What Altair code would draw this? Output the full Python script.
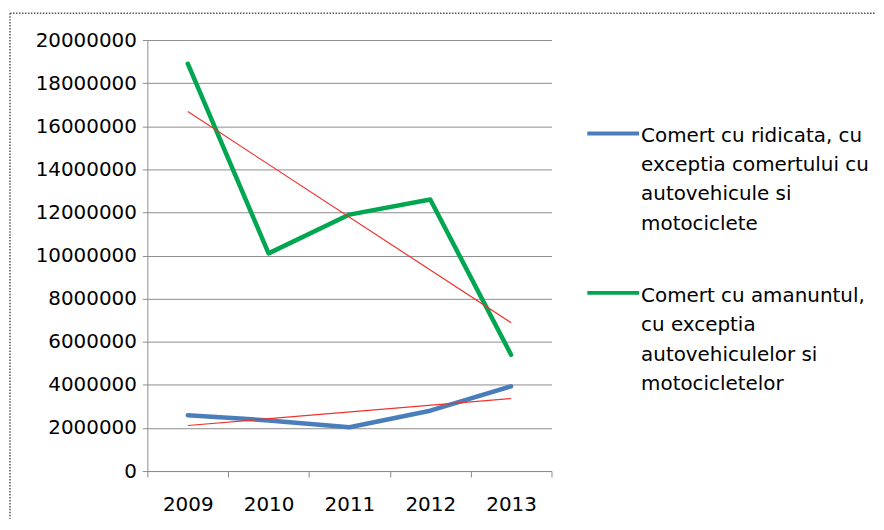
import altair as alt
import pandas as pd

years = [2009, 2010, 2011, 2012, 2013]
wholesale = [2590000, 2350000, 2030000, 2800000, 3930000]
retail = [18900000, 10100000, 11900000, 12600000, 5400000]
series_names = [
    "Comert cu ridicata, cu exceptia comertului cu autovehicule si motociclete",
    "Comert cu amanuntul, cu exceptia autovehiculelor si motocicletelor",
]
legend_lines = [
    ["Comert cu ridicata, cu", "exceptia comertului cu", "autovehicule si", "motociclete"],
    ["Comert cu amanuntul,", "cu exceptia", "autovehiculelor si", "motocicletelor"],
]
colors = ["#4a7ebb", "#00a650"]
trend_color = "#f0322d"
y_ticks = [0, 2000000, 4000000, 6000000, 8000000, 10000000,
           12000000, 14000000, 16000000, 18000000, 20000000]
x_ticks = [2008.5, 2009, 2009.5, 2010, 2010.5, 2011, 2011.5,
           2012, 2012.5, 2013, 2013.5]

df = pd.DataFrame({
    "year": years * 2,
    "value": wholesale + retail,
    "series": [series_names[0]] * len(years) + [series_names[1]] * len(years),
})

FONT = "DejaVu Sans"
W, H = 406, 433

x_enc = alt.X(
    "year:Q",
    scale=alt.Scale(domain=[2008.5, 2013.5], nice=False, zero=False),
    axis=alt.Axis(
        values=x_ticks,
        labelExpr="datum.value % 1 == 0 ? format(datum.value, 'd') : ''",
        tickOpacity={"condition": {"test": "datum.value % 1 == 0", "value": 0}, "value": 1},
        labelOverlap=False,
        labelFlush=False,
        grid=False,
        title=None,
        tickSize=6,
        labelPadding=18,
        labelBaseline="top",
        labelFontSize=20,
        labelFont=FONT,
        labelColor="#000000",
        domainColor="#8c8c8c",
        tickColor="#8c8c8c",
    ),
)
y_enc = alt.Y(
    "value:Q",
    scale=alt.Scale(domain=[0, 20000000], nice=False),
    axis=alt.Axis(
        values=y_ticks,
        format="d",
        title=None,
        tickSize=5,
        labelPadding=6,
        labelFontSize=20,
        labelFont=FONT,
        labelColor="#000000",
        gridColor="#8c8c8c",
        domainColor="#8c8c8c",
        tickColor="#8c8c8c",
    ),
)

base = alt.Chart(df)

lines = base.mark_line(strokeWidth=4.5, strokeCap="round", strokeJoin="round").encode(
    x=x_enc,
    y=y_enc,
    color=alt.Color("series:N", scale=alt.Scale(domain=series_names, range=colors), legend=None),
)

trend = base.transform_regression("year", "value", groupby=["series"]).mark_line(
    strokeWidth=1.2, color=trend_color
).encode(x="year:Q", y="value:Q", detail="series:N")

# manual legend (layout only)
sym_y = [94, 254]
txt_y = [102, 263]
legend_layers = []
for i in range(2):
    one = alt.Chart(pd.DataFrame({"series": [series_names[i]]}))
    legend_layers.append(
        one.mark_rule(strokeWidth=4, color=colors[i]).encode(
            x=alt.value(442), x2=alt.value(494), y=alt.value(sym_y[i])
        )
    )
    legend_layers.append(
        one.mark_text(
            text=legend_lines[i], align="left", baseline="alphabetic",
            lineHeight=29.5, fontSize=20, font=FONT, color="#000000"
        ).encode(x=alt.value(496), y=alt.value(txt_y[i]))
    )

# dotted frame (top and left edges)
frame_df = pd.DataFrame({"k": [0]})
frame_top = alt.Chart(frame_df).mark_rule(color="#555555", strokeWidth=1.5, strokeDash=[1.5, 1.5]).encode(
    x=alt.value(-138), x2=alt.value(732), y=alt.value(-27)
)
frame_left = alt.Chart(frame_df).mark_rule(color="#555555", strokeWidth=1.5, strokeDash=[1.5, 1.5]).encode(
    x=alt.value(-138), y=alt.value(-27), y2=alt.value(481)
)

chart = alt.layer(lines, trend, *legend_layers, frame_top, frame_left).properties(
    width=W,
    height=H,
    padding={"left": 140, "top": 31, "right": 326, "bottom": 48},
    autosize=alt.AutoSizeParams(type="none"),
    background="#ffffff",
).configure_view(stroke=None)

chart.save("out.html", embed_options={"renderer": "svg", "actions": False})
